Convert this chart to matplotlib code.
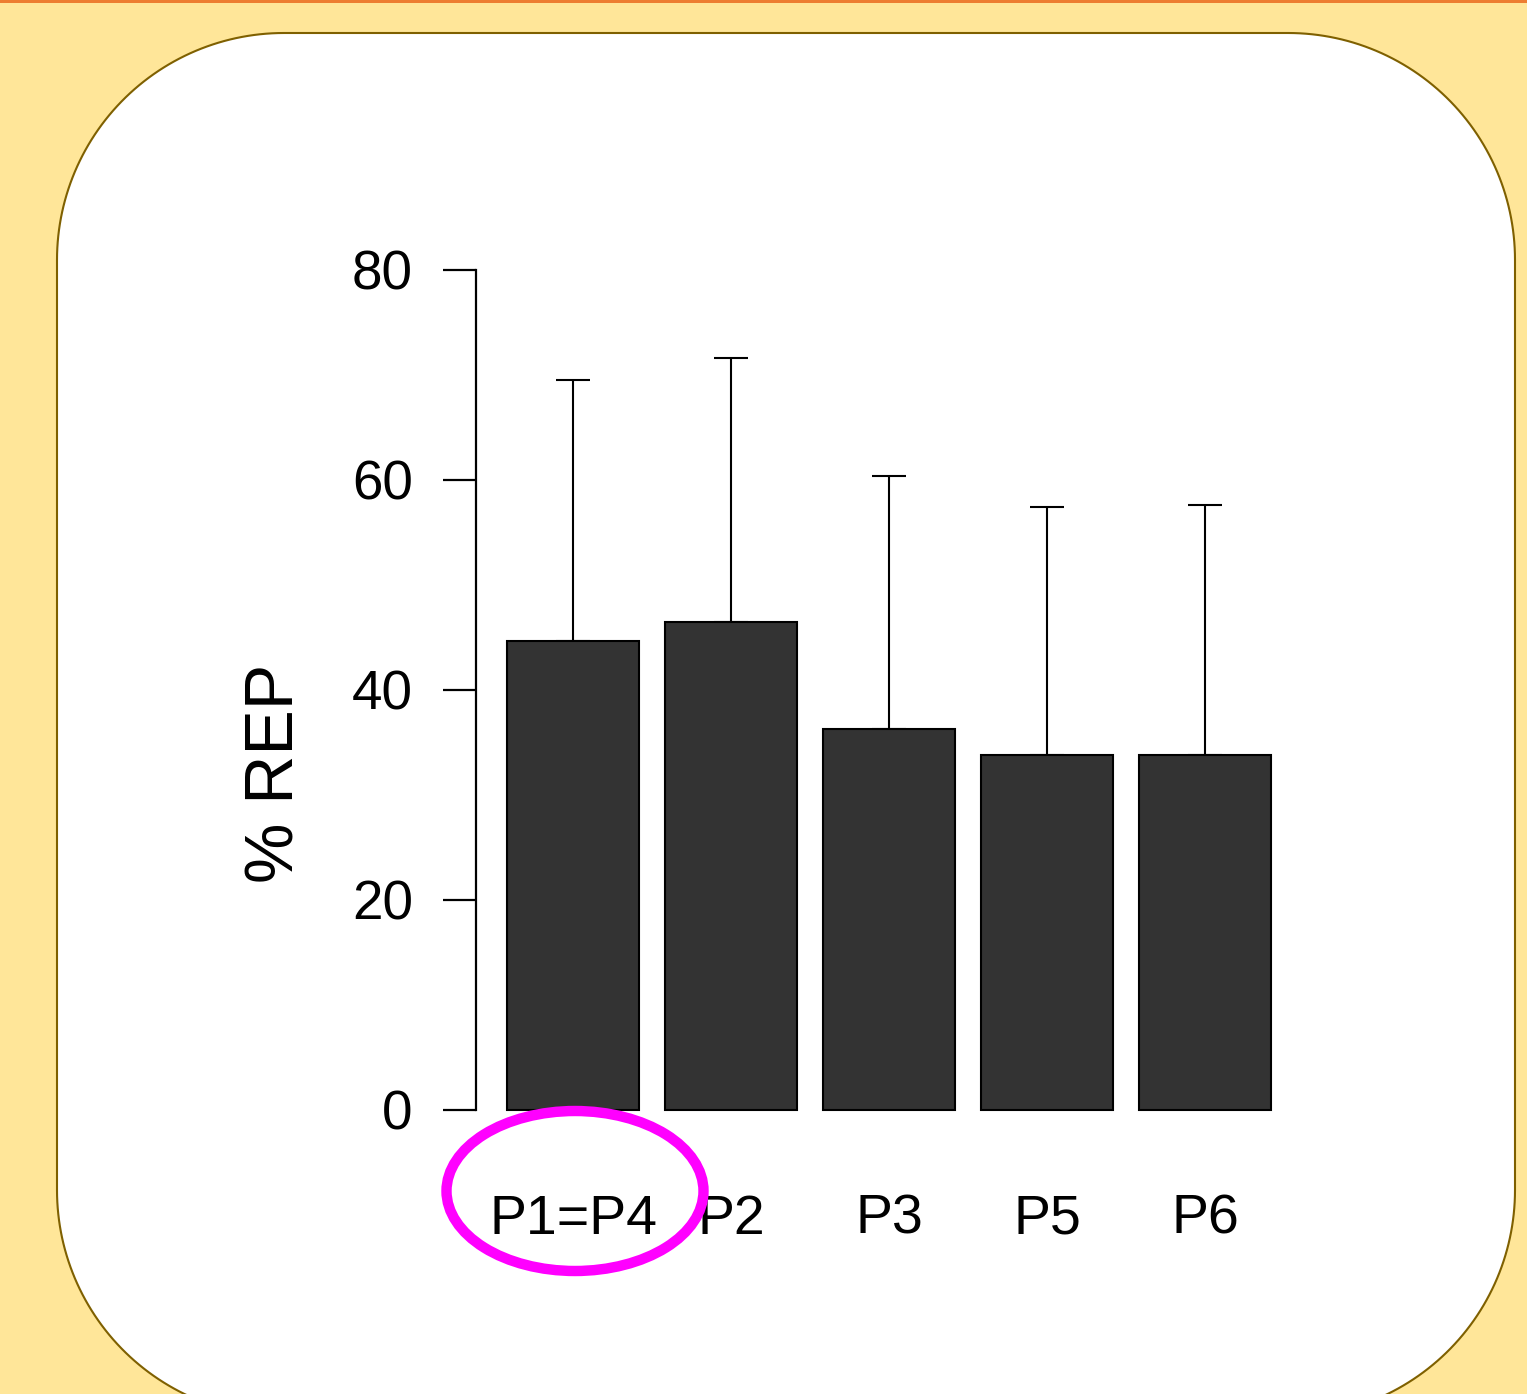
import numpy as np
import matplotlib.pyplot as plt
from matplotlib.patches import Ellipse, Polygon, Rectangle


# ------------------------------------------------------------
# Data
# ------------------------------------------------------------

CATEGORIES = ["P1=P4", "P2", "P3", "P5", "P6"]
MEANS = [44.7, 46.5, 36.3, 33.8, 33.8]
ERRORS = [24.8, 25.1, 24.1, 23.6, 23.8]
Y_TICKS = [0, 20, 40, 60, 80]

# ------------------------------------------------------------
# Layout (pixels in the 1527 x 1394 canvas)
# ------------------------------------------------------------

W, H = 1527, 1394
DPI = 100
AX_LEFT, AX_RIGHT = 476, 1300
AX_TOP, AX_BOTTOM = 270, 1110
BAR_STEP = 1.2
BAR_WIDTH = 1.0
PX_PER_UNIT = 131.7

# rounded white panel
BOX_X0, BOX_X1 = 57, 1515
BOX_Y0, BOX_Y1 = 33, 1417
BOX_R = 227


def rounded_rect(x0, y0, x1, y1, r, n=60):
    """
    Outline of a rectangle with circular corners (y grows downward).
    """
    corners = [
        (x1 - r, y0 + r, -90, 0),
        (x1 - r, y1 - r, 0, 90),
        (x0 + r, y1 - r, 90, 180),
        (x0 + r, y0 + r, 180, 270),
    ]
    pts = []
    for cx, cy, a0, a1 in corners:
        t = np.radians(np.linspace(a0, a1, n))
        pts.append(np.column_stack([cx + r * np.cos(t), cy + r * np.sin(t)]))
    return np.vstack(pts)


plt.rcParams["font.family"] = ["Liberation Sans", "DejaVu Sans"]

fig = plt.figure(figsize=(W / DPI, H / DPI), dpi=DPI)
fig.patch.set_facecolor("#FFE699")

# background panel
bg = fig.add_axes([0, 0, 1, 1], zorder=0)
bg.set_xlim(0, W)
bg.set_ylim(H, 0)
bg.axis("off")
bg.add_patch(Rectangle((0, 0), W, 2.5, facecolor="#ED7D31", edgecolor="none"))
bg.add_patch(
    Polygon(
        rounded_rect(BOX_X0, BOX_Y0, BOX_X1, BOX_Y1, BOX_R),
        closed=True,
        facecolor="white",
        edgecolor="#7F6000",
        linewidth=1.5,
    )
)

# main bar chart
ax = fig.add_axes(
    [AX_LEFT / W, (H - AX_BOTTOM) / H,
     (AX_RIGHT - AX_LEFT) / W, (AX_BOTTOM - AX_TOP) / H],
    zorder=1,
)
ax.patch.set_visible(False)

x_pos = [i * BAR_STEP for i in range(len(CATEGORIES))]
x_left = -(573 - AX_LEFT) / PX_PER_UNIT
ax.set_xlim(x_left, x_left + (AX_RIGHT - AX_LEFT) / PX_PER_UNIT)
ax.set_ylim(0, 80)

ax.bar(
    x_pos, MEANS,
    width=BAR_WIDTH,
    color="#333333",
    edgecolor="black",
    linewidth=1.5,
    clip_on=False,
    zorder=2,
)
ax.errorbar(
    x_pos, MEANS,
    yerr=[[0] * len(ERRORS), ERRORS],
    fmt="none",
    ecolor="black",
    elinewidth=1.5,
    capsize=12,
    capthick=1.5,
    zorder=1,
)

for side in ["top", "right", "bottom"]:
    ax.spines[side].set_visible(False)
ax.spines["left"].set_bounds(0, 80)
ax.spines["left"].set_linewidth(1.6)

ax.set_yticks(Y_TICKS)
ax.set_yticklabels([str(v) for v in Y_TICKS])
ax.tick_params(axis="y", length=23.5, width=1.6, pad=22, labelsize=39.5)
ax.set_xticks([])

for xp, lab in zip(x_pos, CATEGORIES):
    ax.text(
        xp, -(1234 - AX_BOTTOM) / (AX_BOTTOM - AX_TOP),
        lab,
        transform=ax.get_xaxis_transform(),
        ha="center", va="baseline",
        fontsize=40,
    )

fig.text(
    276 / W, 1 - 773 / H, "% REP",
    rotation=90, ha="center", va="center", fontsize=49,
)

# highlight ellipse drawn on top
ov = fig.add_axes([0, 0, 1, 1], zorder=3)
ov.set_xlim(0, W)
ov.set_ylim(H, 0)
ov.axis("off")
ov.patch.set_visible(False)
ov.add_patch(
    Ellipse((575, 1191), 257, 160, fill=False, edgecolor="#FF00FF", linewidth=7.5)
)

fig.savefig("out.png", dpi=DPI)
